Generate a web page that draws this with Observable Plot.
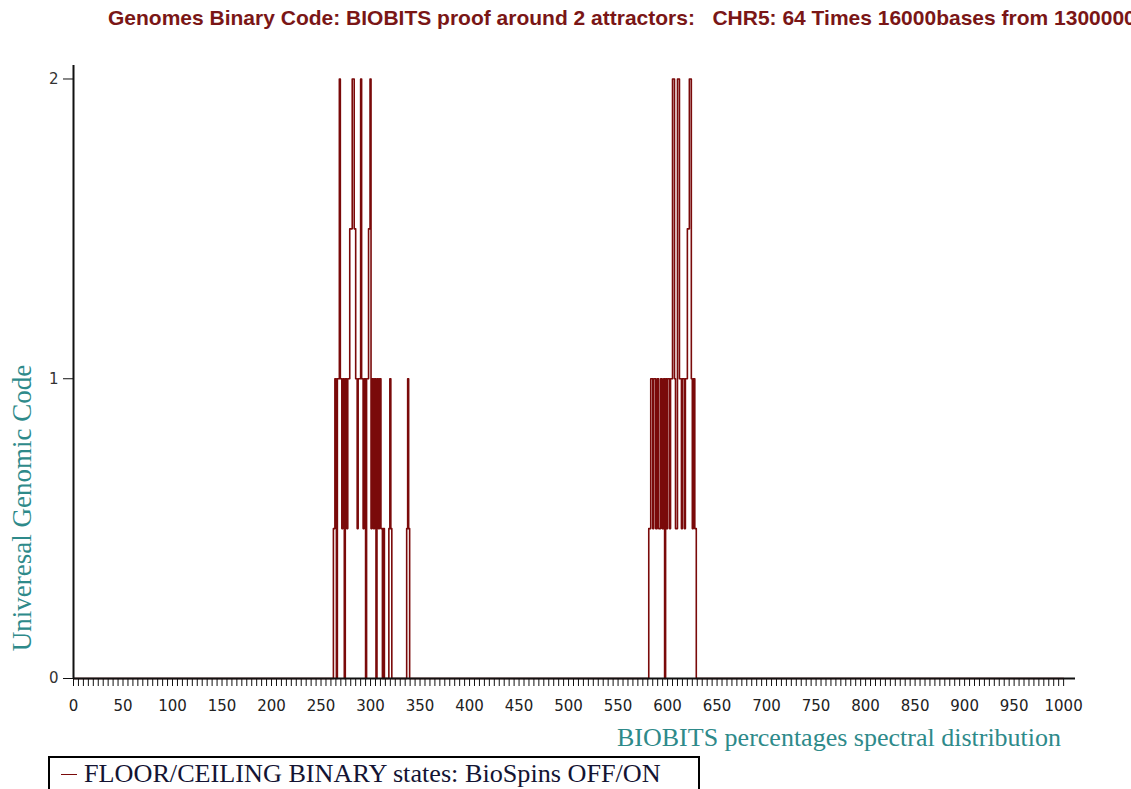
<!DOCTYPE html>
<html>
<head>
<meta charset="utf-8">
<script src="https://cdn.jsdelivr.net/npm/d3@7"></script>
<script src="https://cdn.jsdelivr.net/npm/@observablehq/plot@0.6"></script>
<style>
  html, body { margin: 0; padding: 0; background: #fff; width: 1131px; height: 789px; overflow: hidden; position: relative; }
  #chart { position: absolute; left: 0; top: 0; }
  .title { position: absolute; left: 108px; top: 6px; white-space: nowrap; font: bold 21px "Liberation Sans", Arial, sans-serif; color: #7a1616; }
  .ylab { position: absolute; left: 22px; top: 508px; transform: translate(-50%, -50%) rotate(-90deg); white-space: nowrap; font: 27px "Liberation Serif", "Times New Roman", serif; color: #2e8a8a; }
  .xlab { position: absolute; left: 617px; top: 723px; white-space: nowrap; font: 26px "Liberation Serif", "Times New Roman", serif; color: #2e8a8a; line-height: 30px; }
  .legend { position: absolute; left: 48px; top: 756px; width: 652px; height: 60px; border: 2px solid #000; box-sizing: border-box; }
  .legend .sw { position: absolute; left: 11px; top: 16px; width: 16px; height: 0; border-top: 1.5px solid #7a0a0a; }
  .legend .tx { position: absolute; left: 34px; top: 1px; white-space: nowrap; font: 26.2px "Liberation Serif", "Times New Roman", serif; color: #141433; line-height: 30px; }
</style>
</head>
<body>
<div class="title">Genomes Binary Code: BIOBITS proof around 2 attractors:&nbsp;&nbsp;&nbsp;CHR5: 64 Times 16000bases from 13000000</div>
<div id="chart"></div>
<div class="ylab">Univeresal Genomic Code</div>
<div class="xlab">BIOBITS percentages spectral distribution</div>
<div class="legend"><span class="sw"></span><span class="tx">FLOOR/CEILING BINARY states: BioSpins OFF/ON</span></div>
<script>
// BIOBITS state changes: each value holds from its x until the next x (floor/ceiling levels)
const stateX = [
  0,
  262.5, 264, 265.5, 266.5, 268.5, 269.5, 271, 272, 273.5, 274.5, 276, 277, 279, 281.5, 283.5, 285,
  286.5, 287.5, 290, 291, 292.5, 293.5, 295, 296, 298, 299.5, 300.5, 301.5, 303, 304, 305.5, 306.5,
  308, 309, 310.5, 312, 313, 314, 318.5, 319.5, 320.5, 321.5, 336.5, 337.5, 338.5, 339.5,
  581, 583, 585, 586, 588, 589.5, 591, 593, 594.5, 596, 597, 598, 599, 600, 602, 603, 605, 607,
  608, 610, 612, 614, 615, 617, 618, 620, 622, 624, 625, 626, 627.5, 629,
  1000
];
const stateY = [
  0,
  0.5, 1, 0, 1, 2, 1, 0.5, 1, 0, 1, 0.5, 1, 1.5, 2, 1.5, 1,
  0.5, 1, 2, 1, 0.5, 1, 0, 1, 1.5, 2, 0.5, 1, 0.5, 1, 0, 1,
  0.5, 1, 0.5, 0, 0.5, 0, 0.5, 1, 0.5, 0, 0.5, 1, 0.5, 0,
  0.5, 1, 0.5, 1, 0.5, 1, 0.5, 1, 0.5, 1, 0, 1, 0.5, 1, 0.5, 1, 2, 1,
  0.5, 2, 1, 0.5, 1, 0.5, 1, 1.5, 2, 1, 0.5, 1, 0.5, 0,
  0
];
const xTickLabels = [0, 50, 100, 150, 200, 250, 300, 350, 400, 450, 500, 550, 600, 650, 700, 750, 800, 850, 900, 950, 1000];
const xMinorTicks = d3.range(0, 1001, 5);
const yTickLabels = [0, 1, 2];

const data = stateX.map((x, i) => ({x, y: stateY[i]}));

const chart = Plot.plot({
  width: 1131,
  height: 725,
  marginLeft: 73,
  marginRight: 56,
  marginTop: 65,
  marginBottom: 47,
  x: {domain: [0, 1012], label: null},
  y: {domain: [0, 2.045], label: null},
  style: {background: "transparent", fontFamily: "DejaVu Sans, Verdana, sans-serif"},
  marks: [
    Plot.line(data, {x: "x", y: "y", curve: "step-after", stroke: "#7a0a0a", strokeWidth: 1.6}),
    Plot.axisX({ticks: xMinorTicks, tickSize: 8, tickFormat: () => "", stroke: "#111", strokeWidth: 1, label: null}),
    Plot.axisX({ticks: xTickLabels, tickSize: 0, tickPadding: 22, tickFormat: d3.format("d"), fontSize: 15, fill: "#222", label: null}),
    Plot.axisY({ticks: yTickLabels, tickSize: 10, tickPadding: 5, tickFormat: d3.format("d"), fontSize: 15, fill: "#333", stroke: "#111", label: null}),
    Plot.ruleY([0], {stroke: "#111", strokeWidth: 2}),
    Plot.ruleX([0], {stroke: "#111", strokeWidth: 2})
  ]
});
document.getElementById("chart").appendChild(chart);
</script>
</body>
</html>
